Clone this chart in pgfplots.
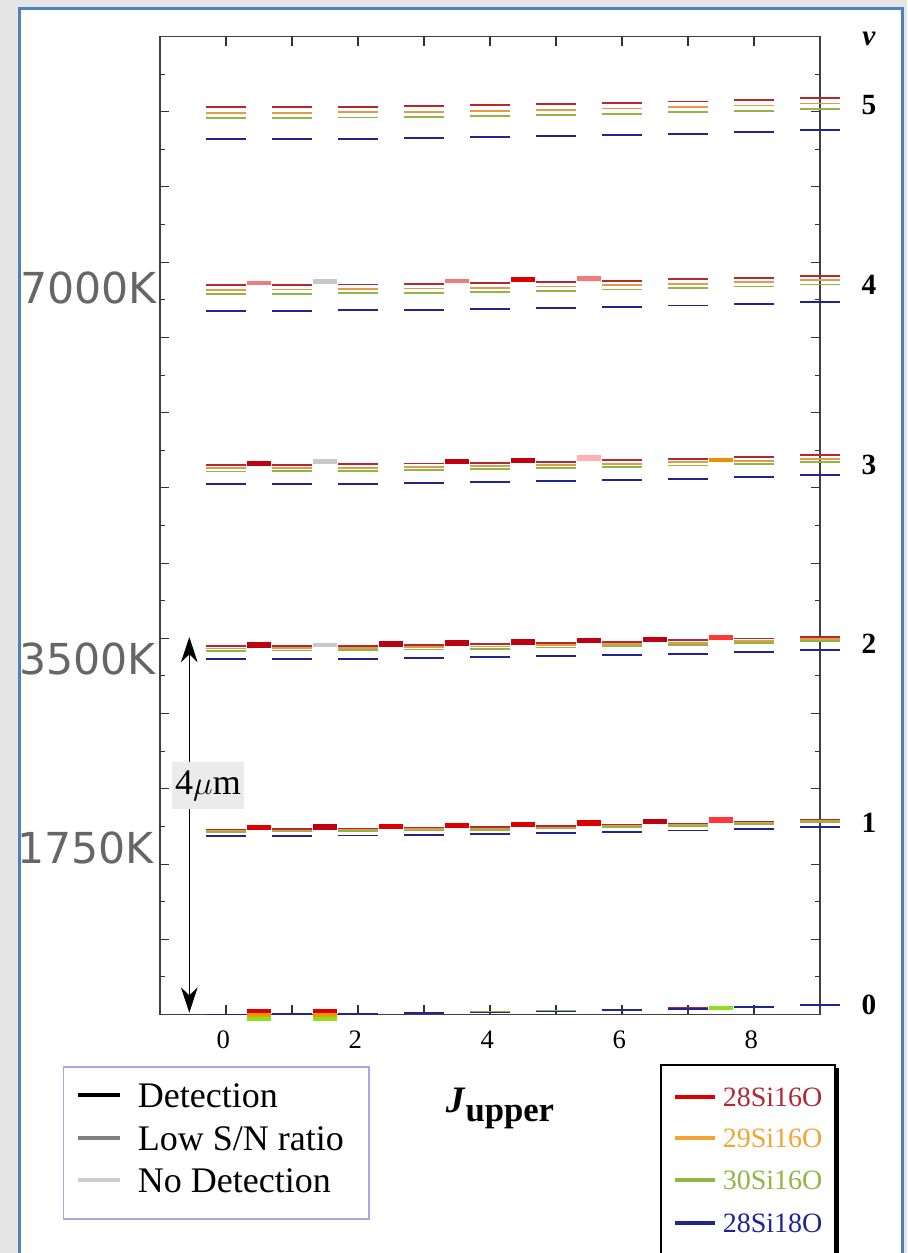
\documentclass[border=0pt]{standalone}
\usepackage{fontspec}
\setmainfont{Liberation Serif}
\newfontfamily\tempsans{DejaVu Sans}
\usepackage{pgfplots}
\usepackage{pgfplotstable}
\pgfplotsset{compat=1.18}
\usetikzlibrary{arrows.meta}

\definecolor{bgGray}{RGB}{229,229,229}
\definecolor{panelBlue}{RGB}{79,129,189}
\definecolor{levRed}{RGB}{180,40,50}
\definecolor{levOrange}{RGB}{225,155,75}
\definecolor{levGreen}{RGB}{145,182,65}
\definecolor{levBlue}{RGB}{35,35,145}
\definecolor{trDark}{RGB}{190,0,16}
\definecolor{trRed}{RGB}{220,0,0}
\definecolor{trBright}{RGB}{255,55,55}
\definecolor{trPink}{RGB}{242,122,122}
\definecolor{trLight}{RGB}{255,176,180}
\definecolor{trGray}{RGB}{200,200,200}
\definecolor{trOrange}{RGB}{242,140,0}
\definecolor{trGreen}{RGB}{140,224,32}
\definecolor{legPurple}{RGB}{168,168,224}

\tikzset{vlab/.style={font=\fontsize{22}{26}\selectfont\bfseries}}

% level energies (cm^-1), columns = vibrational state v, rows = J
\pgfplotstableread{
J v0 v1 v2 v3 v4 v5
0 0 1229.6 2447.3 3653.1 4846.9 6028.8
1 1.4 1231.0 2448.7 3654.5 4848.3 6030.2
2 4.3 1233.9 2451.6 3657.4 4851.1 6033.0
3 8.7 1238.2 2455.9 3661.6 4855.4 6037.2
4 14.5 1244.0 2461.6 3667.3 4861.0 6042.8
5 21.7 1251.2 2468.7 3674.4 4868.0 6049.8
6 30.4 1259.8 2477.3 3682.9 4876.5 6058.2
7 40.6 1269.9 2487.3 3692.8 4886.3 6067.9
8 52.1 1281.4 2498.7 3704.2 4897.6 6079.1
9 65.2 1294.3 2511.6 3716.9 4910.3 6091.7
}\tabA
\pgfplotstableread{
J v0 v1 v2 v3 v4 v5
0 0 1222.0 2432.2 3630.6 4817.2 5992.1
1 1.4 1223.4 2433.6 3632.0 4818.6 5993.5
2 4.3 1226.3 2436.4 3634.8 4821.4 5996.2
3 8.6 1230.5 2440.7 3639.0 4825.5 6000.4
4 14.3 1236.2 2446.3 3644.6 4831.1 6005.9
5 21.5 1243.3 2453.4 3651.6 4838.1 6012.8
6 30.0 1251.8 2461.8 3660.0 4846.4 6021.1
7 40.0 1261.8 2471.7 3669.8 4856.1 6030.8
8 51.5 1273.1 2483.0 3681.0 4867.3 6041.8
9 64.4 1285.9 2495.7 3693.6 4879.8 6054.2
}\tabB
\pgfplotstableread{
J v0 v1 v2 v3 v4 v5
0 0 1214.8 2417.9 3609.4 4789.2 5957.4
1 1.4 1216.2 2419.3 3610.8 4790.6 5958.8
2 4.2 1219.0 2422.1 3613.6 4793.3 5961.5
3 8.5 1223.2 2426.3 3617.7 4797.5 5965.6
4 14.1 1228.8 2431.8 3623.2 4802.9 5971.1
5 21.2 1235.9 2438.8 3630.2 4809.8 5977.9
6 29.7 1244.3 2447.2 3638.5 4818.1 5986.1
7 39.6 1254.1 2456.9 3648.2 4827.7 5995.6
8 50.9 1265.3 2468.1 3659.2 4838.7 6006.5
9 63.6 1278.0 2480.6 3671.7 4851.1 6018.8
}\tabC
\pgfplotstableread{
J v0 v1 v2 v3 v4 v5
0 0 1185.7 2360.2 3523.7 4676.1 5817.4
1 1.3 1187.0 2361.5 3525.0 4677.4 5818.7
2 4.0 1189.7 2364.2 3527.7 4680.0 5821.3
3 8.1 1193.7 2368.2 3531.6 4684.0 5825.2
4 13.5 1199.1 2373.5 3536.9 4689.2 5830.4
5 20.2 1205.8 2380.1 3543.5 4695.8 5836.9
6 28.3 1213.8 2388.1 3551.4 4703.6 5844.7
7 37.7 1223.1 2397.4 3560.6 4712.8 5853.8
8 48.5 1233.8 2408.0 3571.2 4723.3 5864.2
9 60.6 1245.9 2420.0 3583.1 4735.0 5876.0
}\tabD

\begin{document}
\begin{tikzpicture}
\useasboundingbox (0pt,0pt) rectangle (680.25pt,-939.75pt);
\begin{scope}[x=0.75pt,y=-0.75pt]
\fill[bgGray] (0,0) rectangle (907,1253);
\draw[panelBlue, line width=1.9pt, fill=white] (19.5,8.7) rectangle (902.3,1280);
\end{scope}

\begin{axis}[
    at={(120pt,-27.375pt)}, anchor=north west,
    width=495pt, height=733.5pt, scale only axis,
    xmin=-1, xmax=9, ymin=0, ymax=6500,
    clip=false,
    axis line style={line width=0.8pt, black!75},
    xtick={0,...,8}, xticklabels={0,,2,,4,,6,,8},
    ytick={0,500,...,6500}, yticklabels={},
    minor y tick num=1,
    tick align=inside,
    major tick length=7pt, minor tick length=3.5pt,
    every tick/.style={black!80, line width=0.8pt},
    tick label style={font=\fontsize{20}{24}\selectfont},
    /pgf/number format/assume math mode=true,
    xticklabel style={yshift=-9pt, xshift=-2pt},
    lev/.style={only marks, mark=-, mark size=15pt, mark options={line width=1.35pt}},
    tr/.style={only marks, mark=-, mark size=9pt, mark options={line width=4pt}},
]
\pgfplotsinvokeforeach{v0,v1,v2,v3,v4,v5}{
  \addplot[lev, levRed] table[x=J, y=#1] {\tabA};
}
\pgfplotsinvokeforeach{v0,v1,v2,v3,v4,v5}{
  \addplot[lev, levOrange] table[x=J, y=#1] {\tabB};
}
\pgfplotsinvokeforeach{v0,v1,v2,v3,v4,v5}{
  \addplot[lev, levGreen] table[x=J, y=#1] {\tabC};
}
\pgfplotsinvokeforeach{v0,v1,v2,v3,v4,v5}{
  \addplot[lev, levBlue] table[x=J, y=#1] {\tabD};
}

% observed transitions, drawn between J and J+1
\addplot[tr, trDark] coordinates {
  (0.5,3662) (3.5,3674) (4.5,3681)
  (0.5,2456) (2.5,2463) (3.5,2469) (4.5,2476) (5.5,2484) (6.5,2494)
  (1.5,1246) (6.5,1282)};
\addplot[tr, trRed] coordinates {
  (4.5,4883) (0.5,1243) (2.5,1250) (3.5,1256) (4.5,1263) (5.5,1272)};
\addplot[tr, trBright] coordinates {(7.5,2506) (7.5,1293)};
\addplot[tr, trPink, mark options={line width=3.4pt}] coordinates {(0.5,4863) (3.5,4876) (5.5,4892)};
\addplot[tr, trLight] coordinates {(5.5,3698)};
\addplot[tr, trGray, mark options={line width=3.4pt}] coordinates {(1.5,4871) (1.5,3675) (1.5,2455)};
\addplot[tr, trOrange, mark options={line width=3.4pt}] coordinates {(7.5,3684)};
\addplot[tr, trRed, mark options={line width=3pt}] coordinates {(0.5,26) (1.5,26)};
\addplot[tr, trOrange!90!yellow, mark options={line width=3pt}] coordinates {(0.5,0) (1.5,0)};
\addplot[tr, trGreen, mark options={line width=3pt}] coordinates {(0.5,-27) (1.5,-27) (7.5,42)};

\draw[{Stealth[length=19pt,width=12.5pt,inset=6pt]}-{Stealth[length=19pt,width=12.5pt,inset=6pt]}, line width=0.75pt]
  (axis cs:-0.556,12) -- (axis cs:-0.556,2509);

\node[vlab] at (axis cs:9.742,62) {0};
\node[vlab] at (axis cs:9.742,1276) {1};
\node[vlab] at (axis cs:9.742,2467) {2};
\node[vlab] at (axis cs:9.742,3650) {3};
\node[vlab] at (axis cs:9.742,4849) {4};
\node[vlab] at (axis cs:9.742,6042) {5};
\node[vlab, font=\fontsize{22}{26}\selectfont\bfseries\itshape] at (axis cs:9.742,6487) {v};
\end{axis}

\begin{scope}[x=0.75pt,y=-0.75pt]
% 4 micron label
\node[fill=black!8, inner sep=0pt, minimum width=54pt, minimum height=35pt,
      font=\fontsize{27}{30}\selectfont] at (208,785.5) {4$\mu$m};
% temperature labels
\foreach \lab/\yy/\xx in {7000K/288/157, 3500K/659/156, 1750K/847.5/154}{
  \node[anchor=east, inner sep=0pt, text=black!60, font=\tempsans\fontsize{32}{36}\selectfont] at (\xx,\yy) {\lab};
}
% axis title
\node[anchor=base, font=\fontsize{28}{32}\selectfont\bfseries] at (500,1112)
  {\textit{J}\raisebox{-7pt}{\fontsize{26}{28}\selectfont upper}};
% status legend
\draw[legPurple, line width=0.8pt, fill=white] (63.6,1067) rectangle (369,1219);
\foreach \col/\lab/\yy in {black/Detection/1095, black!50/Low S\slash N ratio/1138, black!20/No Detection/1180}{
  \draw[\col, line width=3pt] (78,\yy) -- (120,\yy);
  \node[anchor=base west, inner sep=0pt, font=\fontsize{27}{30}\selectfont] at (137.6,\yy+12) {\lab};
}
% isotopologue legend
\fill[black] (836,1068) rectangle (839,1280);
\draw[black, line width=0.8pt, fill=white] (661,1065) rectangle (835,1280);
\foreach \col/\tcol/\lab/\yy in {
    trRed/levRed/28Si16O/1097,
    trOrange!80/trOrange!80/29Si16O/1138,
    levGreen/levGreen/30Si16O/1180,
    levBlue/levBlue/28Si18O/1223}{
  \draw[\col, line width=3pt] (675,\yy) -- (715,\yy);
  \node[anchor=base west, inner sep=0pt, text=\tcol, font=\fontsize{21}{24}\selectfont] at (722.5,\yy+9.3) {\lab};
}
\end{scope}
\end{tikzpicture}
\end{document}
